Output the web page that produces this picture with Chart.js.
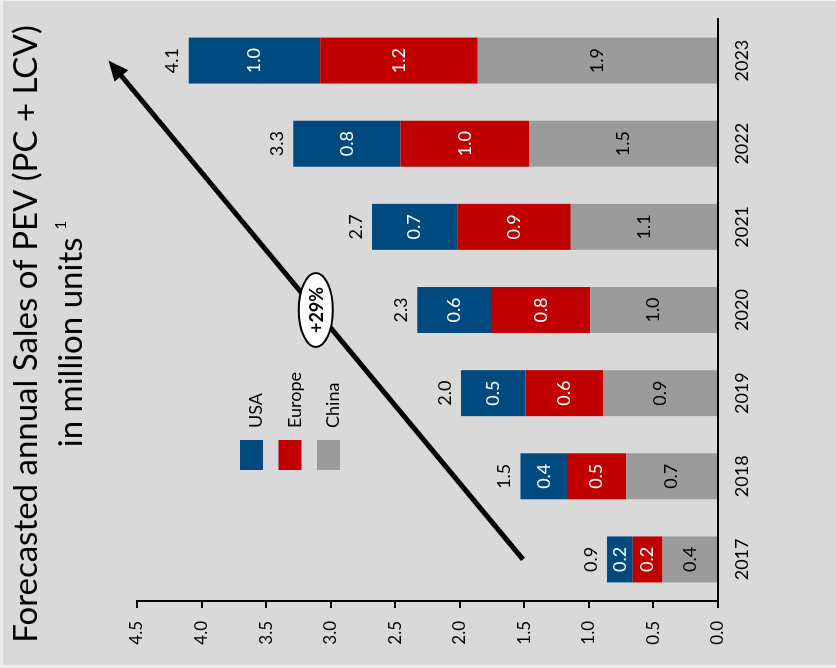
<!DOCTYPE html>
<html lang="en">
<head>
    <meta charset="UTF-8">
    <title>Forecasted annual Sales of PEV</title>
    <script src="https://cdn.jsdelivr.net/npm/chart.js"></script>
    <style>
        body {
            margin: 0;
            background-color: #e9e9e9;
            overflow: hidden;
        }

        /* the chart is drawn upright and then turned a quarter to the left */
        #wrap {
            position: absolute;
            left: 0;
            top: 0;
            width: 668px;
            height: 836px;
            transform-origin: 0 0;
            transform: translateY(668px) rotate(-90deg);
        }
    </style>
</head>
<body>
    <div id="wrap">
        <canvas id="pevChart" width="668" height="836"></canvas>
    </div>
    <script>
        const years = ['2017', '2018', '2019', '2020', '2021', '2022', '2023'];
        const china = [0.43, 0.71, 0.89, 0.99, 1.14, 1.46, 1.86];
        const europe = [0.23, 0.46, 0.60, 0.76, 0.88, 1.00, 1.22];
        const usa = [0.20, 0.36, 0.50, 0.58, 0.66, 0.83, 1.02];
        const yTickStep = 0.5;
        const yMax = 4.5;

        const titleLine1 = 'Forecasted annual Sales of PEV (PC + LCV)';
        const titleLine2 = 'in million units';
        const footnoteMark = '1';
        const growthText = '+29%';
        // trend arrow, in data units: from 2017 to 2023
        const arrowFrom = [0, 1.51];
        const arrowTo = [6, 4.72];

        const FONT = 'Lato';
        const BG = '#d9d9d9';

        Chart.defaults.font.family = FONT;
        Chart.defaults.color = '#000';

        const backgroundPlugin = {
            id: 'background',
            beforeDraw(chart) {
                const ctx = chart.ctx;
                ctx.save();
                ctx.fillStyle = '#ececec';
                ctx.fillRect(0, 0, chart.width, chart.height);
                ctx.fillStyle = BG;
                ctx.fillRect(3, 3, chart.width - 4, chart.height - 3);
                ctx.restore();
            }
        };

        const titlePlugin = {
            id: 'twoLineTitle',
            afterDraw(chart) {
                const ctx = chart.ctx;
                const cx = chart.width / 2;
                ctx.save();
                ctx.fillStyle = '#000';
                ctx.textBaseline = 'alphabetic';
                ctx.font = '33px ' + FONT;
                ctx.textAlign = 'center';
                ctx.fillText(titleLine1, cx, 37);

                // second line with a small raised footnote mark
                const w2 = ctx.measureText(titleLine2).width;
                ctx.font = '15px ' + FONT;
                const ws = ctx.measureText(footnoteMark).width;
                const gap = 8;
                const start = cx - (w2 + gap + ws) / 2;
                ctx.textAlign = 'left';
                ctx.font = '33px ' + FONT;
                ctx.fillText(titleLine2, start, 82);
                ctx.font = '15px ' + FONT;
                ctx.fillText(footnoteMark, start + w2 + gap, 66);
                ctx.restore();
            }
        };

        const barLabelPlugin = {
            id: 'barLabels',
            afterDatasetsDraw(chart) {
                const ctx = chart.ctx;
                ctx.save();
                ctx.font = '18px ' + FONT;
                ctx.textAlign = 'center';
                ctx.textBaseline = 'middle';
                chart.data.datasets.forEach((ds, i) => {
                    const meta = chart.getDatasetMeta(i);
                    meta.data.forEach((bar, j) => {
                        ctx.fillStyle = ds.labelColor;
                        ctx.fillText(ds.data[j].toFixed(1), bar.x, (bar.y + bar.base) / 2);
                    });
                });
                // totals above each stack
                const topMeta = chart.getDatasetMeta(chart.data.datasets.length - 1);
                topMeta.data.forEach((bar, j) => {
                    const total = chart.data.datasets.reduce((s, ds) => s + ds.data[j], 0);
                    ctx.fillStyle = '#000';
                    ctx.fillText(total.toFixed(1), bar.x, bar.y - 16);
                });
                ctx.restore();
            }
        };

        const legendPlugin = {
            id: 'boxLegend',
            afterDraw(chart) {
                const ctx = chart.ctx;
                const area = chart.chartArea;
                const items = chart.data.datasets.slice().reverse();
                ctx.save();
                ctx.font = '18px ' + FONT;
                ctx.textAlign = 'left';
                ctx.textBaseline = 'alphabetic';
                items.forEach((ds, i) => {
                    const x = area.left + 131;
                    const y = area.top + 103 + i * 38.5;
                    ctx.fillStyle = ds.backgroundColor;
                    ctx.fillRect(x, y, 30, 23);
                    ctx.fillStyle = '#000';
                    ctx.fillText(ds.label, x + 42, y + 22);
                });
                ctx.restore();
            }
        };

        const arrowPlugin = {
            id: 'trendArrow',
            afterDraw(chart) {
                const ctx = chart.ctx;
                const xs = chart.scales.x;
                const ys = chart.scales.y;
                const x1 = xs.getPixelForValue(arrowFrom[0]);
                const y1 = ys.getPixelForValue(arrowFrom[1]);
                const x2 = xs.getPixelForValue(arrowTo[0]);
                const y2 = ys.getPixelForValue(arrowTo[1]);
                const ang = Math.atan2(y2 - y1, x2 - x1);
                const headLen = 20;
                const headHalf = 9;

                ctx.save();
                ctx.strokeStyle = '#000';
                ctx.fillStyle = '#000';
                ctx.lineWidth = 5;
                ctx.beginPath();
                ctx.moveTo(x1, y1);
                ctx.lineTo(x2 - Math.cos(ang) * headLen * 0.8, y2 - Math.sin(ang) * headLen * 0.8);
                ctx.stroke();

                ctx.translate(x2, y2);
                ctx.rotate(ang);
                ctx.beginPath();
                ctx.moveTo(0, 0);
                ctx.lineTo(-headLen, -headHalf);
                ctx.lineTo(-headLen, headHalf);
                ctx.closePath();
                ctx.fill();
                ctx.setTransform(1, 0, 0, 1, 0, 0);

                // growth badge in the middle of the arrow
                const mx = (x1 + x2) / 2;
                const my = (y1 + y2) / 2;
                ctx.beginPath();
                ctx.ellipse(mx, my, 37, 17, 0, 0, Math.PI * 2);
                ctx.fillStyle = '#fff';
                ctx.fill();
                ctx.lineWidth = 2;
                ctx.stroke();
                ctx.fillStyle = '#000';
                ctx.font = 'bold 18px ' + FONT;
                ctx.textAlign = 'center';
                ctx.textBaseline = 'middle';
                ctx.fillText(growthText, mx, my + 1);
                ctx.restore();
            }
        };

        const config = {
            type: 'bar',
            data: {
                labels: years,
                datasets: [
                    { label: 'China', data: china, backgroundColor: '#9b9b9b', labelColor: '#000' },
                    { label: 'Europe', data: europe, backgroundColor: '#c00000', labelColor: '#fff' },
                    { label: 'USA', data: usa, backgroundColor: '#004a80', labelColor: '#fff' }
                ]
            },
            options: {
                responsive: false,
                animation: false,
                devicePixelRatio: 1,
                layout: {
                    padding: { top: 137, right: 19, bottom: 0, left: 0 }
                },
                datasets: {
                    bar: {
                        categoryPercentage: 1,
                        barPercentage: 0.553,
                        borderWidth: 0
                    }
                },
                scales: {
                    x: {
                        stacked: true,
                        grid: { display: false, drawTicks: false },
                        border: { display: true, color: '#000', width: 2 },
                        ticks: {
                            font: { size: 18 },
                            color: '#000',
                            padding: 13,
                            maxRotation: 0
                        },
                        afterFit(scale) {
                            scale.height = 118;
                        }
                    },
                    y: {
                        stacked: true,
                        min: 0,
                        max: yMax,
                        grid: {
                            drawOnChartArea: false,
                            drawTicks: true,
                            tickLength: 7,
                            color: '#000',
                            lineWidth: 2
                        },
                        border: { display: true, color: '#000', width: 2 },
                        ticks: {
                            stepSize: yTickStep,
                            font: { size: 17 },
                            color: '#000',
                            padding: 13,
                            callback: (v) => Number(v).toFixed(1)
                        },
                        afterFit(scale) {
                            scale.width = 67;
                        }
                    }
                },
                plugins: {
                    legend: { display: false },
                    title: { display: false },
                    tooltip: { enabled: false }
                }
            },
            plugins: [backgroundPlugin, barLabelPlugin, arrowPlugin, legendPlugin, titlePlugin]
        };

        new Chart(document.getElementById('pevChart').getContext('2d'), config);
    </script>
</body>
</html>
